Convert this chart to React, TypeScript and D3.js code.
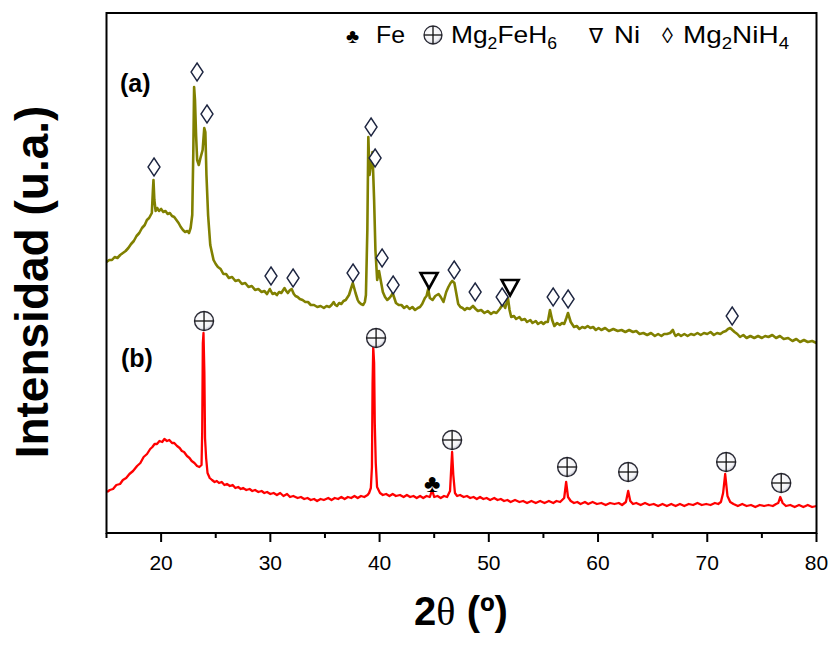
import React from "react";
import * as d3 from "d3";

// ---------- data (2θ in degrees, intensity in a.u.) ----------
const patternA: [number, number][] = [
  [15.0, 271], [15.25, 273], [15.5, 273], [15.75, 276], [16.0, 275], [16.25, 278], [16.5, 280],
  [16.75, 282], [17.0, 285], [17.25, 289], [17.5, 292], [17.75, 297], [18.0, 300], [18.25, 305],
  [18.5, 308], [18.7, 313], [18.9, 315], [19.05, 318], [19.15, 320], [19.25, 343], [19.3, 353],
  [19.38, 333], [19.5, 322], [19.65, 325], [19.8, 322], [20.0, 324], [20.2, 321], [20.4, 322],
  [20.6, 319], [20.8, 320], [21.0, 317], [21.2, 316], [21.4, 313], [21.6, 310], [21.8, 306],
  [22.0, 303], [22.2, 301], [22.4, 302], [22.55, 300], [22.7, 305], [22.85, 318], [22.95, 383],
  [23.02, 446], [23.1, 433], [23.2, 398], [23.3, 373], [23.45, 368], [23.6, 375], [23.8, 383],
  [23.95, 405], [24.05, 401], [24.15, 358], [24.3, 318], [24.5, 288], [24.8, 273], [25.0, 269],
  [25.2, 266], [25.45, 264], [25.7, 259], [25.95, 259], [26.2, 255], [26.5, 256], [26.8, 252],
  [27.1, 253], [27.4, 249], [27.7, 250], [28.0, 246], [28.3, 247], [28.6, 243], [28.9, 244],
  [29.2, 241], [29.45, 242], [29.7, 239], [29.95, 244], [30.2, 239], [30.4, 240], [30.6, 238],
  [30.8, 241], [31.0, 240], [31.3, 245], [31.45, 242], [31.6, 240], [31.8, 243], [31.95, 244],
  [32.15, 239], [32.3, 237], [32.5, 236], [32.7, 234], [32.95, 233], [33.2, 231], [33.45, 231],
  [33.7, 228], [34.0, 228], [34.3, 226], [34.6, 227], [34.9, 225], [35.15, 227], [35.4, 226],
  [35.6, 228], [35.8, 231], [35.95, 228], [36.1, 227], [36.3, 230], [36.5, 229], [36.7, 232],
  [36.9, 233], [37.2, 238], [37.4, 245], [37.55, 250], [37.7, 244], [37.8, 240], [38.0, 233],
  [38.1, 231], [38.3, 229], [38.5, 228], [38.65, 231], [38.75, 238], [38.88, 303], [38.97, 396],
  [39.08, 358], [39.2, 368], [39.35, 381], [39.5, 333], [39.62, 283], [39.78, 253], [39.95, 262],
  [40.15, 250], [40.3, 241], [40.5, 236], [40.7, 233], [40.9, 235], [41.05, 237], [41.2, 240],
  [41.35, 235], [41.5, 230], [41.75, 228], [42.0, 228], [42.25, 225], [42.5, 227], [42.75, 224],
  [43.0, 226], [43.25, 223], [43.5, 225], [43.7, 226], [43.9, 229], [44.15, 235], [44.3, 237],
  [44.45, 244], [44.6, 235], [44.85, 233], [45.1, 237], [45.4, 239], [45.6, 236], [45.85, 231],
  [46.1, 241], [46.3, 246], [46.5, 250], [46.65, 252], [46.85, 250], [47.0, 241], [47.2, 229],
  [47.4, 226], [47.6, 225], [47.8, 223], [48.0, 225], [48.25, 224], [48.55, 227], [48.8, 224],
  [49.0, 222], [49.3, 223], [49.6, 220], [49.9, 222], [50.2, 219], [50.45, 221], [50.7, 220],
  [51.0, 224], [51.3, 229], [51.5, 225], [51.75, 235], [51.9, 223], [52.05, 216], [52.3, 217],
  [52.5, 214], [52.8, 216], [53.0, 213], [53.3, 214], [53.5, 211], [53.8, 213], [54.0, 210],
  [54.3, 212], [54.5, 209], [54.8, 211], [55.0, 209], [55.2, 211], [55.4, 211], [55.6, 223],
  [55.8, 213], [56.0, 207], [56.25, 210], [56.5, 208], [56.7, 210], [56.9, 209], [57.1, 215],
  [57.25, 220], [57.5, 211], [57.8, 206], [58.05, 207], [58.3, 204], [58.55, 206], [58.8, 205],
  [59.05, 207], [59.3, 205], [59.55, 206], [59.8, 203], [60.05, 205], [60.3, 203], [60.65, 205],
  [61.0, 202], [61.4, 204], [61.8, 202], [62.15, 203], [62.5, 201], [62.85, 203], [63.2, 201],
  [63.5, 202], [63.8, 199], [64.15, 200], [64.5, 198], [64.85, 200], [65.2, 197], [65.5, 199],
  [65.8, 197], [66.05, 199], [66.3, 199], [66.6, 200], [66.85, 203], [67.0, 199], [67.1, 197],
  [67.35, 199], [67.6, 197], [67.9, 199], [68.2, 197], [68.5, 199], [68.8, 198], [69.1, 200],
  [69.4, 198], [69.7, 200], [70.0, 199], [70.3, 201], [70.6, 198], [70.9, 200], [71.2, 199],
  [71.45, 201], [71.7, 202], [71.9, 204], [72.1, 205], [72.3, 203], [72.5, 201], [72.75, 199],
  [73.0, 196], [73.3, 198], [73.6, 195], [73.95, 197], [74.3, 195], [74.65, 197], [75.0, 195],
  [75.3, 197], [75.6, 196], [75.95, 198], [76.3, 195], [76.65, 197], [77.0, 194], [77.4, 195],
  [77.8, 192], [78.15, 194], [78.5, 191], [78.85, 193], [79.2, 191], [79.6, 192], [80.0, 190],
];

const patternB: [number, number][] = [
  [15.05, 41], [15.3, 43], [15.6, 44], [15.9, 48], [16.24, 49], [16.5, 53], [16.8, 55],
  [17.1, 59], [17.43, 62], [17.8, 67], [18.1, 70], [18.4, 76], [18.71, 79], [19.0, 84],
  [19.2, 86], [19.4, 89], [19.62, 89], [19.85, 92], [20.1, 91], [20.3, 94], [20.54, 92],
  [20.75, 93], [21.0, 90], [21.2, 90], [21.46, 87], [21.7, 85], [21.9, 82], [22.1, 81],
  [22.37, 77], [22.6, 75], [22.8, 72], [23.05, 70], [23.29, 67], [23.5, 66], [23.7, 68],
  [23.76, 100], [23.82, 190], [23.88, 200], [23.96, 160], [24.02, 95], [24.12, 75], [24.25, 60],
  [24.45, 55], [24.66, 53], [24.9, 51], [25.1, 52], [25.3, 50], [25.55, 51], [25.8, 48],
  [26.03, 49], [26.3, 47], [26.55, 48], [26.8, 45], [27.05, 46], [27.3, 44], [27.5, 45],
  [27.8, 43], [28.1, 44], [28.35, 42], [28.6, 43], [28.9, 41], [29.2, 42], [29.45, 40],
  [29.7, 41], [30.0, 39], [30.3, 40], [30.6, 38], [30.9, 40], [31.2, 37], [31.53, 39],
  [31.8, 36], [32.1, 37], [32.5, 35], [32.8, 36], [33.1, 34], [33.4, 35], [33.7, 33],
  [34.0, 34], [34.28, 32], [34.6, 34], [34.9, 33], [35.3, 35], [35.6, 33], [35.9, 35],
  [36.2, 34], [36.5, 36], [36.8, 34], [37.1, 36], [37.4, 35], [37.7, 37], [38.0, 35],
  [38.3, 37], [38.6, 36], [38.9, 38], [39.04, 40], [39.2, 45], [39.3, 66], [39.36, 150],
  [39.42, 186], [39.5, 170], [39.56, 110], [39.65, 70], [39.77, 46], [40.04, 40], [40.3, 38],
  [40.6, 39], [40.9, 37], [41.2, 39], [41.5, 37], [41.87, 38], [42.2, 36], [42.5, 38],
  [42.8, 36], [43.1, 37], [43.4, 35], [43.71, 37], [44.0, 35], [44.3, 37], [44.6, 36],
  [44.81, 43], [45.0, 36], [45.3, 37], [45.6, 35], [45.9, 37], [46.18, 36], [46.45, 42],
  [46.56, 65], [46.64, 81], [46.75, 58], [46.9, 40], [47.1, 37], [47.37, 38], [47.7, 36],
  [48.0, 37], [48.3, 35], [48.6, 36], [48.9, 34], [49.2, 36], [49.5, 34], [49.8, 35],
  [50.12, 33], [50.5, 35], [50.8, 33], [51.1, 34], [51.4, 32], [51.7, 33], [52.0, 31],
  [52.4, 33], [52.8, 31], [53.14, 32], [53.5, 30], [53.9, 32], [54.3, 30], [54.7, 32],
  [55.1, 30], [55.5, 32], [55.9, 30], [56.2, 32], [56.53, 31], [56.9, 35], [57.08, 51],
  [57.25, 36], [57.5, 32], [57.8, 30], [58.1, 31], [58.4, 29], [58.8, 31], [59.1, 29],
  [59.5, 31], [59.9, 29], [60.3, 30], [60.7, 28], [61.1, 30], [61.5, 29], [61.9, 30],
  [62.2, 28], [62.55, 31], [62.76, 42], [62.95, 32], [63.2, 29], [63.5, 30], [63.9, 28],
  [64.3, 30], [64.7, 28], [65.1, 29], [65.5, 27], [65.9, 29], [66.3, 27], [66.7, 29],
  [67.1, 27], [67.5, 29], [67.9, 27], [68.3, 29], [68.7, 28], [69.1, 30], [69.5, 28],
  [69.9, 29], [70.3, 28], [70.7, 30], [71.0, 29], [71.25, 31], [71.45, 40], [71.64, 59],
  [71.85, 37], [72.1, 31], [72.4, 29], [72.8, 27], [73.2, 29], [73.6, 27], [74.0, 28],
  [74.4, 26], [74.8, 28], [75.2, 27], [75.6, 28], [76.0, 27], [76.3, 29], [76.5, 30],
  [76.68, 36], [76.9, 30], [77.2, 27], [77.6, 28], [78.0, 26], [78.4, 28], [78.8, 26],
  [79.2, 28], [79.6, 26], [80.0, 27],
];

// phase markers [2θ, intensity at which the symbol sits]
const mg2nih4Marks: [number, number][] = [
  [19.35, 366], [23.29, 461], [24.2, 419], [30.06, 257], [32.08, 255], [37.57, 260],
  [39.22, 406], [39.59, 375], [40.23, 275], [41.24, 248], [46.83, 263], [48.75, 241],
  [51.22, 236], [55.89, 236], [57.26, 234], [72.28, 217],
];
const niMarks: [number, number][] = [[44.53, 253], [51.95, 246]];
const mg2feh6Marks: [number, number][] = [
  [23.93, 212], [39.68, 195], [46.64, 93], [57.17, 66], [62.76, 61], [71.73, 71], [76.77, 50],
];
const feMarks: [number, number][] = [[44.81, 50]];

const majorTicks = [20, 30, 40, 50, 60, 70, 80];
const minorTicks = [15, 25, 35, 45, 55, 65, 75];
const seriesLabels = ["(a)", "(b)"];

// ---------- layout ----------
const W = 832;
const H = 646;
const L = 106.5, R = 816.5, T = 13, B = 533;
const FONT = "'Liberation Sans', Arial, sans-serif";

export default function App() {
  const x = d3.scaleLinear().domain([15, 80]).range([L, R]);
  const y = d3.scaleLinear().domain([0, 520]).range([B, T]);
  const line = d3
    .line<[number, number]>()
    .x((d) => x(d[0]))
    .y((d) => y(d[1]));

  const diamond = (cx: number, cy: number) =>
    `M${cx},${cy - 9} L${cx + 6},${cy} L${cx},${cy + 9} L${cx - 6},${cy} Z`;
  const tri = (cx: number, cy: number) =>
    `M${cx - 8.5},${cy - 7} L${cx + 8.5},${cy - 7} L${cx},${cy + 8.5} Z`;

  const oplus = (cx: number, cy: number, r: number, key: string, sw = 1.4) => (
    <g key={key}>
      <circle cx={cx} cy={cy} r={r} fill="url(#og)" stroke="#2a2a35" strokeWidth={sw} />
      <line x1={cx - r} x2={cx + r} y1={cy} y2={cy} stroke="#111" strokeWidth={1.3} />
      <line x1={cx} x2={cx} y1={cy - r} y2={cy + r} stroke="#111" strokeWidth={1.3} />
    </g>
  );

  return (
    <svg
      width={W}
      height={H}
      style={{ position: "absolute", left: 0, top: 0, background: "#fff" }}
      fontFamily={FONT}
    >
      <defs>
        <radialGradient id="og" cx="0.45" cy="0.4" r="0.6">
          <stop offset="0" stopColor="#ffffff" />
          <stop offset="0.75" stopColor="#f3f3f6" />
          <stop offset="1" stopColor="#b9bcc8" />
        </radialGradient>
      </defs>
      <rect x={0} y={0} width={W} height={H} fill="#fff" />

      {/* data lines */}
      <path d={line(patternA) || ""} fill="none" stroke="#808000" strokeWidth={2.6} strokeLinejoin="round" />
      <path d={line(patternB) || ""} fill="none" stroke="#ff0000" strokeWidth={2.3} strokeLinejoin="round" />

      {/* markers */}
      {mg2nih4Marks.map((d, i) => (
        <path key={"d" + i} d={diamond(x(d[0]), y(d[1]))} fill="#fff" stroke="#1d2540" strokeWidth={1.4} />
      ))}
      {niMarks.map((d, i) => (
        <path key={"n" + i} d={tri(x(d[0]), y(d[1]))} fill="#fff" stroke="#000" strokeWidth={2.6} strokeLinejoin="miter" />
      ))}
      {mg2feh6Marks.map((d, i) => oplus(x(d[0]), y(d[1]), 9.5, "o" + i))}
      {feMarks.map((d, i) => (
        <text key={"f" + i} x={x(d[0])} y={y(d[1]) + 9} fontSize={25} textAnchor="middle" fill="#000">
          ♣
        </text>
      ))}

      {/* frame */}
      <rect x={L} y={T} width={R - L} height={B - T} fill="none" stroke="#000" strokeWidth={2} />

      {/* ticks */}
      {majorTicks.map((t) => (
        <g key={"mt" + t}>
          <line x1={x(t)} x2={x(t)} y1={B} y2={B + 9} stroke="#000" strokeWidth={2} />
          <text x={x(t)} y={570} fontSize={21} textAnchor="middle" fill="#000">
            {t}
          </text>
        </g>
      ))}
      {minorTicks.map((t) => (
        <line key={"mn" + t} x1={x(t)} x2={x(t)} y1={B} y2={B + 5} stroke="#000" strokeWidth={2} />
      ))}

      {/* axis titles */}
      <text x={461} y={625} fontSize={40} fontWeight="bold" textAnchor="middle" fill="#000">
        <tspan>2</tspan>
        <tspan fontFamily="'Liberation Serif', 'Times New Roman', serif" fontWeight="normal">θ</tspan>
        <tspan> (º)</tspan>
      </text>
      <text
        transform="translate(48,282) rotate(-90)"
        fontSize={46}
        fontWeight="bold"
        textAnchor="middle"
        fill="#000"
      >
        Intensidad (u.a.)
      </text>

      {/* series labels */}
      <text x={120} y={92} fontSize={25} fontWeight="bold" fill="#000">{seriesLabels[0]}</text>
      <text x={121} y={367} fontSize={25} fontWeight="bold" fill="#000">{seriesLabels[1]}</text>

      {/* legend */}
      <g fontSize={24} fill="#000">
        <text x={346} y={43} fontSize={20}>♣</text>
        <text x={376} y={43} textLength={29} lengthAdjust="spacingAndGlyphs">Fe</text>
        {oplus(433, 35, 9, "lg", 1.3)}
        <text x={451} y={43} textLength={106} lengthAdjust="spacingAndGlyphs">
          Mg<tspan fontSize={16} dy={6}>2</tspan>
          <tspan dy={-6}>FeH</tspan>
          <tspan fontSize={16} dy={6}>6</tspan>
        </text>
        <text x={589} y={43} fontSize={21}>∇</text>
        <text x={614} y={43} textLength={26} lengthAdjust="spacingAndGlyphs">Ni</text>
        <text x={662} y={43} fontSize={22}>◊</text>
        <text x={683} y={43} textLength={106} lengthAdjust="spacingAndGlyphs">
          Mg<tspan fontSize={16} dy={6}>2</tspan>
          <tspan dy={-6}>NiH</tspan>
          <tspan fontSize={16} dy={6}>4</tspan>
        </text>
      </g>
    </svg>
  );
}
